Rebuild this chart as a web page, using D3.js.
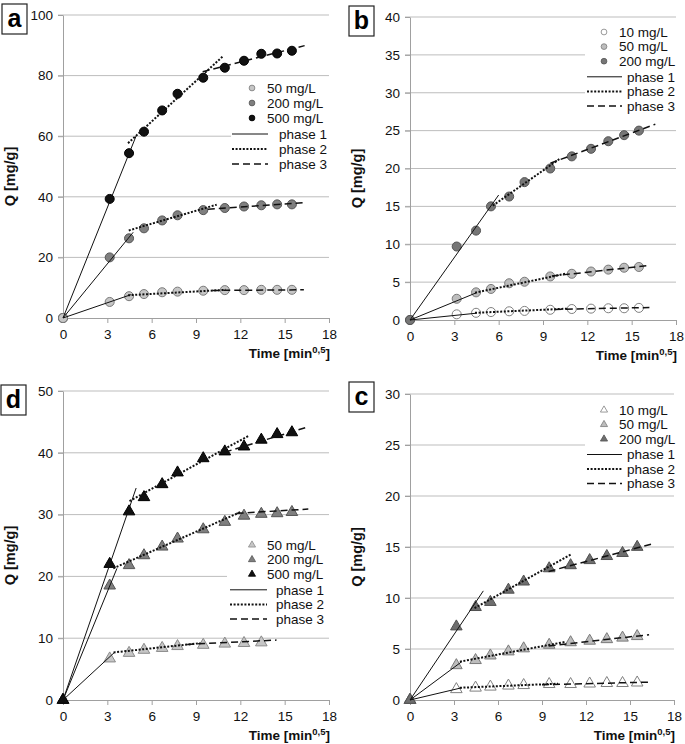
<!DOCTYPE html>
<html>
<head>
<meta charset="utf-8">
<script src="https://cdn.jsdelivr.net/npm/d3@7"></script>
<style>
  body { margin: 0; background: #fff; }
  text { font-family: "Liberation Sans", Arial, sans-serif; }
</style>
</head>
<body>
<div id="chart"></div>
<script>
// sampling times as sqrt(min): 0,10,20,30,45,60,90,120,150,180,210,240
const timeSqrt = [0, 3.16, 4.47, 5.48, 6.71, 7.75, 9.49, 10.95, 12.25, 13.42, 14.49, 15.49];
const xTicks = [0, 3, 6, 9, 12, 15, 18];

// panel a (circles)
const aLabels = ["50 mg/L", "200 mg/L", "500 mg/L"];
const a50 = [0, 5.3, 7.2, 7.9, 8.5, 8.7, 9.0, 9.2, 9.2, 9.3, 9.3, 9.3];
const a200 = [0, 20.0, 26.3, 29.6, 32.2, 33.9, 35.6, 36.3, 36.8, 37.2, 37.5, 37.5];
const a500 = [0, 39.3, 54.4, 61.5, 68.5, 74.0, 79.3, 82.6, 84.9, 87.2, 87.3, 88.2];
const aTicks = [0, 20, 40, 60, 80, 100];
// fitted segments [x1, y1, x2, y2] per series
const aPhase1 = [[0, 0, 4.6, 7.7], [0, 0, 4.75, 28.3], [0, 0, 4.95, 60.1]];
const aPhase2 = [[4.4, 7.5, 11.0, 9.3], [4.45, 28.9, 10.4, 37.4], [4.4, 57.7, 10.85, 86.5]];
const aPhase3 = [[10.1, 9.1, 16.3, 9.3], [9.8, 35.9, 16.3, 38.1], [9.45, 81.3, 16.35, 89.9]];

// panel b (circles)
const bLabels = ["10 mg/L", "50 mg/L", "200 mg/L"];
const b10 = [0, 0.75, 0.95, 1.05, 1.15, 1.2, 1.35, 1.45, 1.5, 1.55, 1.55, 1.6];
const b50 = [0, 2.8, 3.65, 4.1, 4.85, 5.05, 5.75, 6.1, 6.4, 6.65, 6.9, 7.0];
const b200 = [0, 9.7, 11.8, 15.0, 16.3, 18.2, 20.0, 21.6, 22.6, 23.6, 24.4, 25.0];
const bTicks = [0, 5, 10, 15, 20, 25, 30, 35, 40];
const bPhase1 = [[0, 0, 4.5, 0.9], [0, 0, 4.5, 3.6], [0, 0, 6.0, 16.5]];
const bPhase2 = [[4.4, 0.95, 10.7, 1.5], [4.4, 3.6, 10.5, 6.1], [5.6, 15.1, 10.15, 21.3]];
const bPhase3 = [[9.8, 1.4, 16.2, 1.65], [9.6, 5.8, 16.2, 7.2], [9.5, 20.7, 16.6, 25.85]];

// panel d (triangles)
const dLabels = ["50 mg/L", "200 mg/L", "500 mg/L"];
const d50 = [0, 6.7, 7.6, 8.1, 8.4, 8.7, 8.9, 9.1, 9.2, 9.3];
const d200 = [0, 18.5, 21.8, 23.4, 24.8, 26.1, 27.6, 28.8, 29.8, 30.1, 30.2, 30.4];
const d500 = [0, 22.0, 30.5, 32.8, 34.9, 36.8, 39.1, 40.2, 41.0, 42.1, 43.0, 43.3];
const dTicks = [0, 10, 20, 30, 40, 50];
const dPhase1 = [[0, 0, 3.53, 7.8], [0, 0, 3.65, 21.3], [0, 0, 4.95, 34.3]];
const dPhase2 = [[3.42, 7.7, 9.3, 9.2], [3.4, 21.3, 12.0, 30.4], [4.5, 32.2, 12.6, 42.8]];
const dPhase3 = [[8.4, 9.0, 14.45, 9.7], [11.75, 30.2, 16.6, 30.9], [10.95, 40.1, 16.6, 44.2]];

// panel c (triangles)
const cLabels = ["10 mg/L", "50 mg/L", "200 mg/L"];
const c10 = [0, 1.05, 1.2, 1.3, 1.4, 1.45, 1.55, 1.55, 1.6, 1.65, 1.65, 1.7];
const c50 = [0, 3.4, 3.9, 4.35, 4.75, 5.05, 5.4, 5.65, 5.8, 5.95, 6.1, 6.25];
const c200 = [0, 7.2, 9.1, 9.6, 10.8, 11.6, 12.9, 13.2, 13.7, 14.1, 14.4, 15.0];
const cTicks = [0, 5, 10, 15, 20, 25, 30];
const cPhase1 = [[0, 0, 3.53, 1.2], [0, 0, 3.53, 3.76], [0, 0, 5.0, 10.7]];
const cPhase2 = [[3.4, 1.2, 10.1, 1.6], [3.4, 3.76, 10.6, 5.7], [4.4, 9.0, 11.0, 14.3]];
const cPhase3 = [[9.0, 1.5, 16.3, 1.75], [9.45, 5.3, 16.3, 6.4], [9.45, 12.6, 16.5, 15.3]];

const phaseNames = ["phase 1", "phase 2", "phase 3"];
const phaseDash = [null, "2,1.6", "7,4"];
const phaseWidth = [1, 2, 1.5];

const svg = d3.select("#chart").append("svg")
    .attr("width", 685)
    .attr("height", 744);

function drawPanel(p) {
    const x = d3.scaleLinear().domain([0, 18]).range([p.left, p.right]);
    const y = d3.scaleLinear().domain([0, p.ticks[p.ticks.length - 1]]).range([p.bottom, p.top]);
    const g = svg.append("g");

    // gridlines
    g.selectAll(".grid")
        .data(p.ticks.filter(t => t > 0))
        .enter().append("line")
        .attr("x1", p.left - 5).attr("x2", p.right)
        .attr("y1", d => y(d)).attr("y2", d => y(d))
        .attr("stroke", "#bdbdbd").attr("stroke-width", 1);

    // axes
    const yAxis = g.append("g")
        .attr("transform", `translate(${p.left},0)`)
        .call(d3.axisLeft(y).tickValues(p.ticks).tickSize(5).tickSizeOuter(0).tickPadding(5));
    const xAxis = g.append("g")
        .attr("transform", `translate(0,${p.bottom})`)
        .call(d3.axisBottom(x).tickValues(xTicks).tickSize(5).tickSizeOuter(0).tickPadding(6));
    [yAxis, xAxis].forEach(ax => {
        ax.select(".domain").attr("stroke", "#a0a0a0");
        ax.selectAll(".tick line").attr("stroke", "#a0a0a0");
        ax.selectAll("text")
            .attr("fill", "#111")
            .style("font-size", "13.5px")
            .style("font-family", "'Liberation Sans', Arial, sans-serif");
    });

    // legend background hides gridlines behind it
    g.append("rect")
        .attr("x", p.legX).attr("y", p.legY)
        .attr("width", p.legW).attr("height", p.legH)
        .attr("fill", "#fff");

    // markers
    const order = p.reverse ? [2, 1, 0] : [0, 1, 2];
    order.forEach(i => {
        const s = p.series[i];
        const sym = d3.symbol().type(p.shape).size(p.shape === d3.symbolCircle ? 64 : 58);
        g.append("g").selectAll("path")
            .data(s.values)
            .enter().append("path")
            .attr("d", sym)
            .attr("transform", (d, j) => `translate(${x(timeSqrt[j])},${y(d)})`)
            .attr("fill", s.fill)
            .attr("stroke", s.stroke)
            .attr("stroke-width", 1);
    });

    // fitted lines
    p.phases.forEach((segs, k) => {
        g.append("g").selectAll("line")
            .data(segs)
            .enter().append("line")
            .attr("x1", d => x(d[0])).attr("y1", d => y(d[1]))
            .attr("x2", d => x(d[2])).attr("y2", d => y(d[3]))
            .attr("stroke", "#111")
            .attr("stroke-width", phaseWidth[k])
            .attr("stroke-dasharray", phaseDash[k]);
    });

    // legend
    const lg = g.append("g");
    const legSym = d3.symbol().type(p.shape).size(p.shape === d3.symbolCircle ? 26 : 22);
    p.series.forEach((s, i) => {
        const ly = p.legRow0 + i * p.legStep;
        lg.append("path")
            .attr("d", legSym)
            .attr("transform", `translate(${p.legMarkX},${ly})`)
            .attr("fill", s.fill).attr("stroke", s.stroke).attr("stroke-width", 0.8);
        lg.append("text")
            .attr("x", p.legTextX).attr("y", ly).attr("dy", "0.35em")
            .style("font-size", "13.5px").attr("fill", "#111")
            .text(s.label);
    });
    phaseNames.forEach((name, k) => {
        const ly = p.legRow0 + (k + 3) * p.legStep + 1;
        lg.append("line")
            .attr("x1", p.legLineX1).attr("x2", p.legLineX2)
            .attr("y1", ly).attr("y2", ly)
            .attr("stroke", "#111")
            .attr("stroke-width", phaseWidth[k])
            .attr("stroke-dasharray", phaseDash[k]);
        lg.append("text")
            .attr("x", p.legPhaseX).attr("y", ly).attr("dy", "0.35em")
            .style("font-size", "13.5px").attr("fill", "#111")
            .text(name);
    });

    // axis titles
    g.append("text")
        .attr("transform", `translate(${p.left - 48},${(p.top + p.bottom) / 2 + 10})rotate(-90)`)
        .attr("text-anchor", "middle")
        .style("font-size", "14.5px").style("font-weight", "bold").attr("fill", "#111")
        .text("Q [mg/g]");
    const xt = g.append("text")
        .attr("x", p.right + 1).attr("y", p.bottom + 40)
        .attr("text-anchor", "end")
        .style("font-size", "13.5px").style("font-weight", "bold").attr("fill", "#111");
    xt.append("tspan").text("Time [min");
    xt.append("tspan").attr("dy", -5).style("font-size", "9.5px").text("0,5");
    xt.append("tspan").attr("dy", 5).text("]");

    // panel letter
    g.append("rect")
        .attr("x", p.boxX).attr("y", p.boxY).attr("width", 25).attr("height", 30)
        .attr("fill", "#fff").attr("stroke", "#222").attr("stroke-width", 1.2);
    g.append("text")
        .attr("x", p.boxX + 12.5).attr("y", p.boxY + 23)
        .attr("text-anchor", "middle")
        .style("font-size", "25px").style("font-weight", "bold").attr("fill", "#000")
        .text(p.letter);
}

const circleStyles = {
    light: ["#c6c6c6", "#7a7a7a"],
    mid: ["#7f7f7f", "#555"],
    dark: ["#111", "#000"],
    white: ["#fff", "#808080"]
};

function mkSeries(labels, vals, styles) {
    return vals.map((v, i) => ({ label: labels[i], values: v, fill: styles[i][0], stroke: styles[i][1] }));
}

drawPanel({
    letter: "a", boxX: 2, boxY: 4,
    left: 63, right: 329, top: 15, bottom: 318, ticks: aTicks,
    shape: d3.symbolCircle, reverse: true,
    series: mkSeries(aLabels, [a50, a200, a500], [circleStyles.light, circleStyles.mid, circleStyles.dark]),
    phases: [aPhase1, aPhase2, aPhase3],
    legX: 231, legY: 80, legW: 100, legH: 92,
    legRow0: 88, legStep: 15, legMarkX: 252, legTextX: 267,
    legLineX1: 232, legLineX2: 268, legPhaseX: 279
});

drawPanel({
    letter: "b", boxX: 349, boxY: 6,
    left: 410, right: 676, top: 17, bottom: 320, ticks: bTicks,
    shape: d3.symbolCircle, reverse: false,
    series: mkSeries(bLabels, [b10, b50, b200], [circleStyles.white, ["#bdbdbd", "#7a7a7a"], ["#767676", "#555"]]),
    phases: [bPhase1, bPhase2, bPhase3],
    legX: 585, legY: 24, legW: 100, legH: 90,
    legRow0: 32, legStep: 14.6, legMarkX: 604, legTextX: 619,
    legLineX1: 587, legLineX2: 622, legPhaseX: 627
});

drawPanel({
    letter: "d", boxX: 1, boxY: 385,
    left: 63, right: 329, top: 391, bottom: 700, ticks: dTicks,
    shape: d3.symbolTriangle, reverse: false,
    series: mkSeries(dLabels, [d50, d200, d500], [["#c6c6c6", "#8a8a8a"], ["#7f7f7f", "#555"], ["#111", "#000"]]),
    phases: [dPhase1, dPhase2, dPhase3],
    legX: 227, legY: 537, legW: 104, legH: 90,
    legRow0: 545, legStep: 14.6, legMarkX: 252, legTextX: 267,
    legLineX1: 230, legLineX2: 267, legPhaseX: 276
});

drawPanel({
    letter: "c", boxX: 349, boxY: 382,
    left: 410, right: 674, top: 394, bottom: 700, ticks: cTicks,
    shape: d3.symbolTriangle, reverse: false,
    series: mkSeries(cLabels, [c10, c50, c200], [["#fff", "#808080"], ["#bdbdbd", "#7a7a7a"], ["#6e6e6e", "#505050"]]),
    phases: [cPhase1, cPhase2, cPhase3],
    legX: 585, legY: 401, legW: 100, legH: 90,
    legRow0: 410, legStep: 14.5, legMarkX: 604, legTextX: 619,
    legLineX1: 587, legLineX2: 622, legPhaseX: 627
});
</script>
</body>
</html>
